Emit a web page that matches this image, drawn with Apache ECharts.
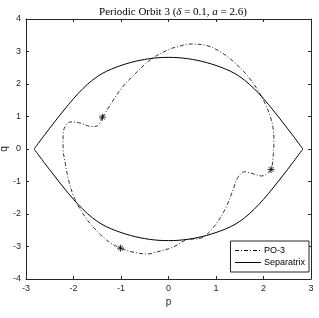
<!DOCTYPE html>
<html><head><meta charset="utf-8">
<script src="https://cdn.jsdelivr.net/npm/echarts@6/dist/echarts.min.js"></script>
<style>html,body{margin:0;padding:0;background:#fff}#c{width:319px;height:318px}</style>
</head><body><div id="c"></div>
<script>
// Separatrix
var sepP      = [-2.83,-2.6,-2.4,-2.2,-2.0,-1.8,-1.6,-1.4,-1.2,-1.0,-0.8,-0.6,-0.4,-0.2,0,0.2,0.4,0.6,0.8,1.0,1.2,1.4,1.6,1.8,2.0,2.2,2.4,2.6,2.83];
var sepQUpper = [0,0.45,0.83,1.20,1.55,1.86,2.12,2.32,2.46,2.57,2.66,2.73,2.78,2.81,2.82,2.81,2.78,2.73,2.66,2.57,2.46,2.32,2.12,1.86,1.55,1.20,0.83,0.45,0];
var sepQLower = [0,-0.45,-0.83,-1.20,-1.55,-1.86,-2.12,-2.32,-2.46,-2.57,-2.66,-2.73,-2.78,-2.81,-2.82,-2.81,-2.78,-2.73,-2.66,-2.57,-2.46,-2.32,-2.12,-1.86,-1.55,-1.20,-0.83,-0.45,0];
// Periodic orbit PO-3
var orbitP = [-1.39,-1.22,-1.01,-0.72,-0.35,0.05,0.16,0.44,0.79,1.07,1.36,1.64,1.85,2.01,2.13,2.20,2.22,2.20,2.16,2.06,1.96,1.80,1.60,1.46,1.35,1.21,1.00,0.72,0.37,0.08,-0.23,-0.44,-0.72,-1.01,-1.29,-1.64,-1.86,-2.00,-2.10,-2.17,-2.22,-2.22,-2.17,-2.07,-1.89,-1.61,-1.50,-1.39];
var orbitQ = [0.98,1.37,1.83,2.29,2.78,3.09,3.13,3.23,3.19,3.01,2.70,2.29,1.88,1.47,1.06,0.66,0.25,-0.27,-0.63,-0.78,-0.83,-0.77,-0.70,-0.88,-1.29,-1.80,-2.31,-2.72,-2.80,-3.03,-3.16,-3.23,-3.18,-3.05,-2.82,-2.31,-1.85,-1.44,-0.98,-0.47,0.04,0.45,0.71,0.83,0.81,0.69,0.71,0.98];
// Marked points
var starP = [-1.39, 2.16, -1.01];
var starQ = [0.98, -0.63, -3.05];

function pairs(a,b){return a.map(function(v,i){return [v,b[i]];});}
var axisCol = '#262626';
var chart = echarts.init(document.getElementById('c'), null, {renderer:'canvas'});
var baseX = {type:'value', min:-3, max:3, interval:1,
  axisLine:{show:true,onZero:false,lineStyle:{color:axisCol,width:1}},
  axisTick:{show:true,inside:true,length:3,lineStyle:{color:axisCol}},
  splitLine:{show:false}};
var baseY = {type:'value', min:-4, max:4, interval:1,
  axisLine:{show:true,onZero:false,lineStyle:{color:axisCol,width:1}},
  axisTick:{show:true,inside:true,length:3,lineStyle:{color:axisCol}},
  splitLine:{show:false}};
var star = 'path://M0,5L10,5M5,0L5,10M1.5,1.5L8.5,8.5M8.5,1.5L1.5,8.5';
chart.setOption({
  animation:false,
  backgroundColor:'#fff',
  title:{text:'{n|Periodic Orbit 3 (}{i|δ}{n| = 0.1, }{i|a}{n| = 2.6)}', left:168, textAlign:'center', top:2,
    textStyle:{fontWeight:'normal',rich:{n:{fontFamily:'Liberation Serif',fontWeight:'normal',fontSize:11,color:'#000'},i:{fontFamily:'Liberation Serif',fontWeight:'normal',fontStyle:'italic',fontSize:11,color:'#000'}}}},
  grid:{left:26,right:8,top:19,bottom:39,containLabel:false,outerBoundsMode:'none'},
  legend:{data:['PO-3','Separatrix'], orient:'vertical', right:10, bottom:46,
    itemWidth:26, itemHeight:10, itemGap:3, padding:[5,4,5,4],
    borderColor:'#262626', borderWidth:1, backgroundColor:'#fff',
    itemStyle:{opacity:0}, lineStyle:{width:1},
    textStyle:{fontFamily:'Liberation Sans',fontSize:9,color:'#000',padding:[0,0,0,-2]}},
  xAxis:[Object.assign({}, baseX, {position:'bottom', name:'p', nameLocation:'middle', nameGap:18, nameMoveOverlap:false,
      nameTextStyle:{fontFamily:'Liberation Sans',fontSize:10,color:axisCol},
      axisLabel:{fontFamily:'Liberation Sans',fontSize:9,color:axisCol,margin:5}}),
    Object.assign({}, baseX, {position:'top', axisLabel:{show:false}})],
  yAxis:[Object.assign({}, baseY, {position:'left', name:'q', nameLocation:'middle', nameGap:17, nameRotate:90, nameMoveOverlap:false,
      nameTextStyle:{fontFamily:'Liberation Sans',fontSize:10,color:axisCol},
      axisLabel:{fontFamily:'Liberation Sans',fontSize:9,color:axisCol,margin:5}}),
    Object.assign({}, baseY, {position:'right', axisLabel:{show:false}})],
  series:[
    {name:'PO-3', type:'line', data:pairs(orbitP,orbitQ), smooth:0.35, symbol:'none',
      lineStyle:{color:'#000',width:0.8,type:[4,2,1,2]}, itemStyle:{color:'#000'}, z:3},
    {name:'Separatrix', type:'line', data:pairs(sepP,sepQUpper), smooth:0.3, symbol:'none',
      lineStyle:{color:'#000',width:1,type:'solid'}, itemStyle:{color:'#000'}, z:2},
    {name:'Separatrix', type:'line', data:pairs(sepP,sepQLower), smooth:0.3, symbol:'none',
      lineStyle:{color:'#000',width:1,type:'solid'}, itemStyle:{color:'#000'}, z:2},
    {name:'stars', type:'scatter', data:pairs(starP,starQ), symbol:star, symbolSize:7,
      itemStyle:{color:'transparent',borderColor:'#000',borderWidth:1}, z:4}
  ]
});
</script></body></html>
